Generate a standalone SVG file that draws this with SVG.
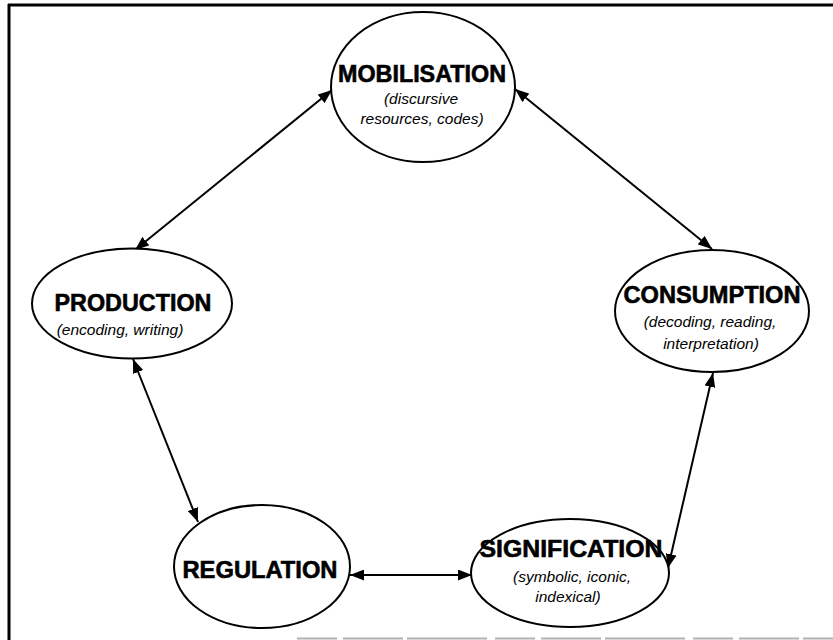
<svg xmlns="http://www.w3.org/2000/svg" width="833" height="640" viewBox="0 0 833 640">
<style>
.node ellipse{fill:#fff;stroke:#000;stroke-width:2}
.t{font-family:"Liberation Sans",Arial,sans-serif;font-weight:bold;font-size:24px;text-anchor:middle;fill:#000;stroke:#000;stroke-width:0.6}
.s{font-family:"Liberation Sans",Arial,sans-serif;font-style:italic;font-size:15.5px;text-anchor:middle;fill:#000}
.c line{stroke:#000;stroke-width:2;marker-start:url(#ah);marker-end:url(#ah)}
</style>
<defs>
<marker id="ah" markerUnits="userSpaceOnUse" markerWidth="15" markerHeight="11" refX="14" refY="5.5" orient="auto-start-reverse" viewBox="0 0 15 11">
<path d="M0,0 L14,5.5 L0,11 z" fill="#000"/>
</marker>
</defs>
<rect width="833" height="640" fill="#fff"/>
<g id="border" fill="none">
<line x1="8" y1="5" x2="833" y2="5" stroke="#000" stroke-width="3"/>
<line x1="9" y1="4" x2="9" y2="640" stroke="#000" stroke-width="3"/>
<line x1="297" y1="638.5" x2="833" y2="638.5" stroke="#b0b0b0" stroke-width="2" stroke-dasharray="40,6,60,4,80,8"/>
</g>
<g class="c" id="connectors">
<line x1="332" y1="90" x2="135" y2="250"/>
<line x1="515" y1="89" x2="712" y2="249"/>
<line x1="713" y1="373" x2="668" y2="568"/>
<line x1="133" y1="359" x2="198" y2="522"/>
<line x1="350" y1="575" x2="472" y2="575"/>
</g>
<g class="node" id="mobilisation">
<ellipse cx="423" cy="87" rx="92" ry="75"/>
<text class="t" x="422" y="82" textLength="168" lengthAdjust="spacingAndGlyphs">MOBILISATION</text>
<text class="s" x="421" y="104">(discursive</text>
<text class="s" x="422" y="124">resources, codes)</text>
</g>
<g class="node" id="production">
<ellipse cx="132" cy="303.5" rx="100" ry="55"/>
<text class="t" x="133" y="311" textLength="157" lengthAdjust="spacingAndGlyphs">PRODUCTION</text>
<text class="s" x="120" y="335">(encoding, writing)</text>
</g>
<g class="node" id="consumption">
<ellipse cx="712" cy="311" rx="97" ry="61"/>
<text class="t" x="712" y="303" textLength="177" lengthAdjust="spacingAndGlyphs">CONSUMPTION</text>
<text class="s" x="710" y="327">(decoding, reading,</text>
<text class="s" x="711" y="349">interpretation)</text>
</g>
<g class="node" id="regulation">
<ellipse cx="262" cy="566.5" rx="88" ry="61.5"/>
<text class="t" x="260" y="578" textLength="155" lengthAdjust="spacingAndGlyphs">REGULATION</text>
</g>
<g class="node" id="signification">
<ellipse cx="570" cy="573" rx="99" ry="54"/>
<text class="t" x="571" y="557" textLength="183" lengthAdjust="spacingAndGlyphs">SIGNIFICATION</text>
<text class="s" x="572" y="582">(symbolic, iconic,</text>
<text class="s" x="568" y="602">indexical)</text>
</g>
</svg>
